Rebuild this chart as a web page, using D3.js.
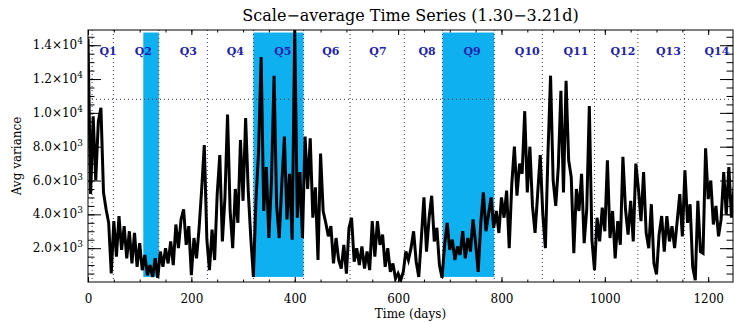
<!DOCTYPE html>
<html>
<head>
<meta charset="utf-8">
<script src="https://cdn.jsdelivr.net/npm/d3@7"></script>
<style>
body { margin: 0; background: #fff; }
svg { display: block; font-family: "DejaVu Serif", serif; }
</style>
</head>
<body>
<div id="chart"></div>
<script>
// series is sampled every 5 days, starting at day 0
var step = 5;
var avgVariance = [
  14400, 5200, 9800, 6000, 9500, 10300, 5300, 4300, 3500, 500,
  3600, 1500, 3900, 1900, 3300, 1400, 3000, 1100, 2900, 900,
  2300, 700, 1600, 400, 1000, 300, 1400, 250, 1800, 900,
  2000, 1100, 2400, 1000, 3400, 2000, 3700, 4300, 2200, 3300,
  400, 2600, 1400, 3200, 5500, 8100, 2500, 700, 3100, 1300,
  5200, 7500, 2400, 5000, 9900, 4200, 2000, 5500, 3500, 8400,
  4800, 9700, 5400, 2600, 300, 4800, 7700, 13300, 4200, 6800,
  2600, 6000, 12200, 4500, 2600, 5800, 8600, 3700, 6400, 2500,
  14900, 3800, 6500, 2600, 8600, 5500, 8500, 3800, 5600, 1300,
  7600, 4200, 3500, 2700, 3300, 1100, 2600, 1300, 800, 2200,
  500, 3200, 3800, 1200, 2000, 1000, 2100, 800, 1800, 700,
  3600, 1500, 3600, 2200, 2800, 900, 2000, 600, 1100, 200,
  500, 100, 600, 1800, 1300, 2000, 3000, 1200, 300, 2600,
  5000, 1800, 3800, 5100, 2400, 3200, 1000, 250, 2200, 3500,
  1900, 2500, 1300, 2100, 1600, 3000, 1400, 2600, 1800, 3700,
  2300, 600, 3500, 5300, 3000, 4000, 5000, 3200, 4200, 2900,
  5000, 3800, 5400, 2000, 5800, 8000, 5100, 7000, 6400, 10100,
  5300, 8000, 4500, 2900, 5200, 7500, 4000, 2000, 7600, 12200,
  6000, 4500, 6800, 11300, 5300, 11900, 7200, 6200, 1700, 5500,
  4200, 6400, 2300, 4300, 10400, 2500, 700, 3800, 2400, 4400,
  3000, 7200, 2600, 4200, 1400, 3600, 2200, 7400, 4300, 2800,
  4800, 2400, 7000, 5500, 3600, 6500, 2900, 2000, 4600, 1100,
  450, 2800, 3900, 1800, 3900, 2400, 3300, 2000, 3600, 5200,
  2700, 6600, 3500, 4600, 900, 100, 4800, 1800, 1700, 7900,
  4900, 6000, 3400, 4500, 2700, 3700, 6500, 4000, 6800, 3800,
  5600
];

var quarters = ["Q1", "Q2", "Q3", "Q4", "Q5", "Q6", "Q7", "Q8", "Q9", "Q10", "Q11", "Q12", "Q13", "Q14"];
var quarterLabelDays = [39, 107, 194, 285, 377, 470, 561, 656, 743, 850, 944, 1035, 1123, 1217];
var quarterBounds = [8, 49, 137, 231, 320, 417, 507, 612, 686, 786, 879, 980, 1064, 1154];
var bandStart = [107, 320, 686];
var bandEnd = [137, 417, 786];
var bandLow = 300, bandHigh = 14750;
var sigLevel = 10800;

var xTicks = [0, 200, 400, 600, 800, 1000, 1200];
var yTicks = [2000, 4000, 6000, 8000, 10000, 12000, 14000];

var margin = {top: 30, right: 1, bottom: 40, left: 88},
    width = 734 - margin.left - margin.right,
    height = 322 - margin.top - margin.bottom;

var svg = d3.select("#chart")
  .append("svg")
    .attr("width", width + margin.left + margin.right)
    .attr("height", height + margin.top + margin.bottom);

var g = svg.append("g")
    .attr("transform", "translate(" + margin.left + "," + margin.top + ")");

var x = d3.scaleLinear().domain([0, 1248]).range([0, width]);
var y = d3.scaleLinear().domain([0, 14900]).range([height, 0]);

var series = avgVariance.map(function(v, i) { return {t: i * step, v: v}; });

g.append("clipPath").attr("id", "plotclip")
  .append("rect").attr("width", width).attr("height", height);

// highlighted quarters
g.selectAll(".band")
  .data(bandStart)
  .enter()
  .append("rect")
    .attr("x", function(d) { return x(d); })
    .attr("width", function(d, i) { return x(bandEnd[i]) - x(d); })
    .attr("y", y(bandHigh))
    .attr("height", y(bandLow) - y(bandHigh))
    .style("fill", "#0fb0ef");

// quarter boundaries
g.selectAll(".qline")
  .data(quarterBounds)
  .enter()
  .append("line")
    .attr("x1", function(d) { return x(d); })
    .attr("x2", function(d) { return x(d); })
    .attr("y1", 0)
    .attr("y2", height)
    .attr("stroke", "#333366")
    .attr("stroke-dasharray", "1,3");

g.append("line")
  .attr("x1", 0).attr("x2", width)
  .attr("y1", y(sigLevel)).attr("y2", y(sigLevel))
  .attr("stroke", "#333")
  .attr("stroke-dasharray", "1,3");

g.selectAll(".qlabel")
  .data(quarters)
  .enter()
  .append("text")
    .attr("x", function(d, i) { return x(quarterLabelDays[i]); })
    .attr("y", 25)
    .attr("text-anchor", "middle")
    .style("font-size", "11px")
    .style("font-weight", "bold")
    .style("fill", "#1f1fb0")
    .text(function(d) { return d; });

// the time series
g.append("path")
  .datum(series)
  .attr("clip-path", "url(#plotclip)")
  .attr("fill", "none")
  .attr("stroke", "black")
  .attr("stroke-width", 3)
  .attr("stroke-linejoin", "miter")
  .attr("d", d3.line()
    .x(function(d) { return x(d.t); })
    .y(function(d) { return y(d.v); }));

// axes, ticks pointing inward
var xMinor = d3.range(0, 1249, 50);
var yMinor = d3.range(500, 14900, 500);

function noDomain(sel) { sel.select(".domain").remove(); }

g.append("g").attr("transform", "translate(0," + height + ")")
  .call(d3.axisBottom(x).tickValues(xMinor).tickSize(-2.5).tickFormat("")).call(noDomain);
g.append("g").attr("transform", "translate(0," + height + ")")
  .call(d3.axisBottom(x).tickValues(xTicks).tickSize(-5).tickPadding(12).tickFormat(d3.format("d"))).call(noDomain);
g.append("g")
  .call(d3.axisTop(x).tickValues(xMinor).tickSize(-2.5).tickFormat("")).call(noDomain);
g.append("g")
  .call(d3.axisTop(x).tickValues(xTicks).tickSize(-5).tickFormat("")).call(noDomain);

g.append("g")
  .call(d3.axisLeft(y).tickValues(yMinor).tickSize(-6.5).tickFormat("")).call(noDomain);
g.append("g")
  .call(d3.axisLeft(y).tickValues(yTicks).tickSize(-13).tickFormat("")).call(noDomain);
g.append("g").attr("transform", "translate(" + width + ",0)")
  .call(d3.axisRight(y).tickValues(yMinor).tickSize(-6.5).tickFormat("")).call(noDomain);
g.append("g").attr("transform", "translate(" + width + ",0)")
  .call(d3.axisRight(y).tickValues(yTicks).tickSize(-13).tickFormat("")).call(noDomain);

g.selectAll(".tick line").attr("stroke", "black");
g.selectAll(".tick text")
  .style("font-family", "DejaVu Serif, serif")
  .style("font-size", "12px")
  .style("fill", "black");

// y tick labels like 1.4x10^4
var ylab = g.selectAll(".ylab")
  .data(yTicks)
  .enter()
  .append("text")
    .attr("x", -5)
    .attr("y", function(d) { return y(d) + 4; })
    .attr("text-anchor", "end")
    .style("font-size", "12px");
ylab.append("tspan")
  .text(function(d) { return d >= 10000 ? (d / 10000).toFixed(1) + "×10" : (d / 1000).toFixed(1) + "×10"; });
ylab.append("tspan")
  .attr("dy", -5)
  .style("font-size", "9px")
  .text(function(d) { return d >= 10000 ? "4" : "3"; });

g.append("rect")
  .attr("width", width).attr("height", height)
  .attr("fill", "none").attr("stroke", "black");

svg.append("text")
  .attr("x", margin.left + width / 2)
  .attr("y", 21)
  .attr("text-anchor", "middle")
  .style("font-size", "16px")
  .text("Scale−average Time Series (1.30−3.21d)");

svg.append("text")
  .attr("x", margin.left + width / 2)
  .attr("y", 318)
  .attr("text-anchor", "middle")
  .style("font-size", "12px")
  .text("Time (days)");

svg.append("text")
  .attr("transform", "translate(21," + (margin.top + height / 2) + ")rotate(-90)")
  .attr("text-anchor", "middle")
  .style("font-size", "12px")
  .text("Avg variance");
</script>
</body>
</html>
